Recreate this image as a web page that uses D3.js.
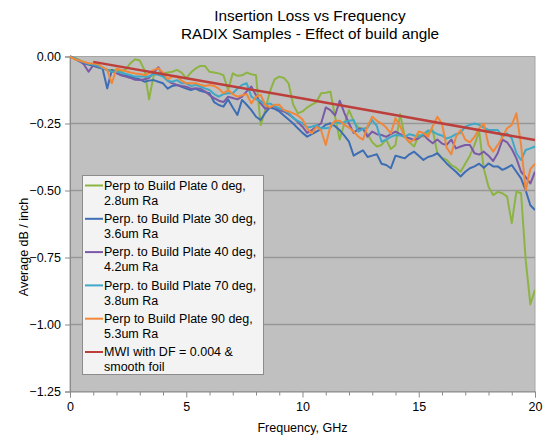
<!DOCTYPE html>
<html>
<head>
<meta charset="utf-8">
<script src="https://cdn.jsdelivr.net/npm/d3@7"></script>
<style>
  html, body { margin: 0; padding: 0; background: #ffffff; }
  svg { display: block; font-family: "Liberation Sans", Arial, sans-serif; }
</style>
</head>
<body>
<svg id="chart" width="545" height="437"></svg>
<script>
// ---------- DATA ----------
const titleLines = ["Insertion Loss vs Frequency", "RADIX Samples - Effect of build angle"];
const xTitle = "Frequency, GHz";
const yTitle = "Average dB / inch";
const xTicks = [0, 5, 10, 15, 20];
const xMinorTicks = [1,2,3,4,6,7,8,9,11,12,13,14,16,17,18,19];
const yTicks = [0, -0.25, -0.5, -0.75, -1.0, -1.25];

const freq = [0,0.2,0.4,0.6,0.8,1,1.2,1.4,1.6,1.8,2,2.2,2.4,2.6,2.8,3,3.2,3.4,3.6,3.8,
  4,4.2,4.4,4.6,4.8,5,5.2,5.4,5.6,5.8,6,6.2,6.4,6.6,6.8,7,7.2,7.4,7.6,7.8,
  8,8.2,8.4,8.6,8.8,9,9.2,9.4,9.6,9.8,10,10.2,10.4,10.6,10.8,11,11.2,11.4,11.6,11.8,
  12,12.2,12.4,12.6,12.8,13,13.2,13.4,13.6,13.8,14,14.2,14.4,14.6,14.8,15,15.2,15.4,15.6,15.8,
  16,16.2,16.4,16.6,16.8,17,17.2,17.4,17.6,17.8,18,18.2,18.4,18.6,18.8,19,19.2,19.4,19.6,19.8,20];

const lossDeg0 = [0,-0.005,-0.013,-0.022,-0.03,-0.035,-0.04,-0.045,-0.05,-0.05,
  -0.052,-0.055,-0.048,-0.025,-0.01,-0.015,-0.05,-0.16,-0.07,-0.06,
  -0.063,-0.06,-0.057,-0.05,-0.06,-0.081,-0.06,-0.045,-0.035,-0.035,
  -0.057,-0.06,-0.063,-0.07,-0.125,-0.063,-0.072,-0.07,-0.06,-0.066,
  -0.07,-0.256,-0.2,-0.13,-0.085,-0.075,-0.08,-0.1,-0.18,-0.212,
  -0.205,-0.19,-0.18,-0.17,-0.137,-0.135,-0.131,-0.224,-0.31,-0.25,
  -0.2,-0.24,-0.265,-0.27,-0.29,-0.32,-0.336,-0.33,-0.31,-0.345,
  -0.33,-0.215,-0.3,-0.32,-0.336,-0.293,-0.299,-0.285,-0.274,-0.36,
  -0.378,-0.386,-0.405,-0.415,-0.43,-0.4,-0.37,-0.33,-0.28,-0.42,
  -0.486,-0.517,-0.505,-0.51,-0.523,-0.622,-0.504,-0.51,-0.76,-0.925,-0.87];

const lossDeg30 = [0,-0.008,-0.018,-0.025,-0.03,-0.035,-0.04,-0.045,-0.119,-0.05,
  -0.06,-0.069,-0.072,-0.075,-0.081,-0.085,-0.094,-0.09,-0.088,-0.094,
  -0.1,-0.12,-0.11,-0.106,-0.113,-0.12,-0.125,-0.12,-0.128,-0.133,
  -0.137,-0.17,-0.181,-0.187,-0.16,-0.19,-0.218,-0.162,-0.18,-0.2,
  -0.225,-0.237,-0.21,-0.19,-0.195,-0.205,-0.22,-0.235,-0.25,-0.268,
  -0.285,-0.299,-0.29,-0.28,-0.27,-0.255,-0.249,-0.26,-0.275,-0.295,
  -0.318,-0.37,-0.36,-0.35,-0.375,-0.37,-0.365,-0.4,-0.405,-0.417,
  -0.37,-0.375,-0.38,-0.365,-0.355,-0.37,-0.386,-0.375,-0.37,-0.361,
  -0.38,-0.399,-0.415,-0.43,-0.448,-0.43,-0.417,-0.41,-0.4,-0.415,
  -0.399,-0.41,-0.41,-0.423,-0.415,-0.405,-0.43,-0.455,-0.5,-0.555,-0.573];

const lossDeg40 = [0,-0.008,-0.015,-0.03,-0.057,-0.032,-0.038,-0.043,-0.05,-0.055,
  -0.062,-0.07,-0.075,-0.08,-0.087,-0.088,-0.085,-0.08,-0.06,-0.04,
  -0.07,-0.09,-0.1,-0.106,-0.11,-0.113,-0.12,-0.118,-0.12,-0.13,
  -0.144,-0.155,-0.165,-0.17,-0.15,-0.155,-0.16,-0.15,-0.13,-0.112,
  -0.145,-0.175,-0.195,-0.19,-0.185,-0.2,-0.205,-0.215,-0.228,-0.245,
  -0.262,-0.285,-0.275,-0.26,-0.25,-0.19,-0.2,-0.22,-0.165,-0.21,
  -0.25,-0.285,-0.27,-0.27,-0.299,-0.28,-0.29,-0.293,-0.3,-0.29,
  -0.28,-0.29,-0.3,-0.305,-0.311,-0.305,-0.29,-0.31,-0.324,-0.31,
  -0.325,-0.33,-0.31,-0.343,-0.336,-0.33,-0.33,-0.361,-0.366,-0.355,
  -0.37,-0.39,-0.36,-0.31,-0.32,-0.345,-0.38,-0.43,-0.45,-0.474,-0.43];

const lossDeg70 = [0,-0.007,-0.015,-0.022,-0.027,-0.03,-0.035,-0.043,-0.05,-0.057,
  -0.057,-0.06,-0.065,-0.07,-0.075,-0.075,-0.075,-0.075,-0.065,-0.068,
  -0.075,-0.09,-0.094,-0.088,-0.1,-0.1,-0.11,-0.106,-0.112,-0.119,
  -0.125,-0.14,-0.15,-0.14,-0.137,-0.137,-0.12,-0.106,-0.1,-0.15,
  -0.16,-0.165,-0.181,-0.175,-0.185,-0.193,-0.2,-0.21,-0.23,-0.24,
  -0.249,-0.265,-0.262,-0.256,-0.268,-0.268,-0.265,-0.243,-0.249,-0.245,
  -0.24,-0.237,-0.28,-0.27,-0.265,-0.237,-0.26,-0.318,-0.31,-0.3,
  -0.293,-0.295,-0.3,-0.29,-0.295,-0.3,-0.29,-0.276,-0.28,-0.29,
  -0.295,-0.306,-0.3,-0.29,-0.285,-0.262,-0.255,-0.25,-0.255,-0.265,
  -0.274,-0.274,-0.274,-0.3,-0.287,-0.305,-0.361,-0.386,-0.349,-0.343,-0.336];

const lossDeg90 = [0,-0.01,-0.015,-0.02,-0.025,-0.026,-0.028,-0.04,-0.05,-0.1,
  -0.045,-0.05,-0.055,-0.06,-0.063,-0.065,-0.069,-0.063,-0.05,-0.044,
  -0.06,-0.085,-0.075,-0.075,-0.09,-0.1,-0.1,-0.1,-0.105,-0.11,
  -0.106,-0.11,-0.12,-0.137,-0.125,-0.14,-0.15,-0.145,-0.14,-0.175,
  -0.15,-0.143,-0.18,-0.19,-0.18,-0.18,-0.2,-0.205,-0.212,-0.22,
  -0.235,-0.268,-0.287,-0.262,-0.275,-0.33,-0.26,-0.24,-0.24,-0.255,
  -0.265,-0.28,-0.299,-0.31,-0.26,-0.225,-0.24,-0.25,-0.265,-0.287,
  -0.23,-0.26,-0.3,-0.32,-0.31,-0.28,-0.285,-0.3,-0.26,-0.225,
  -0.25,-0.34,-0.365,-0.3,-0.274,-0.31,-0.32,-0.3,-0.268,-0.25,
  -0.33,-0.355,-0.33,-0.3,-0.268,-0.255,-0.212,-0.33,-0.5,-0.42,-0.4];

const freqModel = [1, 5, 10, 15, 20];
const lossModel = [-0.02, -0.081, -0.157, -0.234, -0.312];

const seriesNames = [
  ["Perp to Build Plate 0 deg,", "2.8um Ra"],
  ["Perp. to Build Plate 30 deg,", "3.6um Ra"],
  ["Perp. to Build Plate 40 deg,", "4.2um Ra"],
  ["Perp. to Build Plate 70 deg,", "3.8um Ra"],
  ["Perp to Build Plate 90 deg,", "5.3um Ra"],
  ["MWI with DF = 0.004 &", "smooth foil"]
];
const seriesColors = ["#8db443", "#3d6db4", "#7a5aa6", "#3ea8c6", "#f0873a", "#bd3f3b"];

// ---------- CHART ----------
const svg = d3.select("#chart");
const plot = { left: 70, right: 535, top: 56.5, bottom: 391.5 };

const x = d3.scaleLinear().domain([0, 20]).range([plot.left, plot.right]);
const y = d3.scaleLinear().domain([-1.25, 0]).range([plot.bottom, plot.top]);

// title
svg.append("g").selectAll("text").data(titleLines).join("text")
  .attr("x", 310).attr("y", (d, i) => 20.5 + i * 18)
  .attr("text-anchor", "middle").attr("font-size", 15.3).attr("fill", "#000")
  .text(d => d);

// plot background
svg.append("rect").attr("x", plot.left).attr("y", plot.top)
  .attr("width", plot.right - plot.left).attr("height", plot.bottom - plot.top)
  .attr("fill", "#c0c0c0").attr("stroke", "#a6a6a6").attr("stroke-width", 1);

// gridlines
svg.append("g").selectAll("line").data(yTicks.filter(v => v !== 0 && v !== -1.25)).join("line")
  .attr("x1", plot.left).attr("x2", plot.right)
  .attr("y1", d => y(d)).attr("y2", d => y(d))
  .attr("stroke", "#979797").attr("stroke-width", 1.3);

// y axis
const yAxis = d3.axisLeft(y).tickValues(yTicks).tickFormat(d3.format(".2f")).tickSize(5).tickPadding(4);
const gy = svg.append("g").attr("transform", `translate(${plot.left},0)`).call(yAxis);
gy.select(".domain").attr("stroke", "#8a8a8a");
gy.selectAll(".tick line").attr("stroke", "#8a8a8a");
gy.selectAll(".tick text").attr("font-size", 12.5).attr("fill", "#000")
  .attr("font-family", "'Liberation Sans', Arial, sans-serif");

// x axis
const xAxis = d3.axisBottom(x).tickValues(xTicks).tickFormat(d3.format("d")).tickSize(6).tickPadding(5);
const gx = svg.append("g").attr("transform", `translate(0,${plot.bottom})`).call(xAxis);
gx.select(".domain").attr("stroke", "#8a8a8a");
gx.selectAll(".tick line").attr("stroke", "#8a8a8a");
gx.selectAll(".tick text").attr("font-size", 12.5).attr("fill", "#000")
  .attr("font-family", "'Liberation Sans', Arial, sans-serif");
const xAxisMinor = d3.axisBottom(x).tickValues(xMinorTicks).tickFormat("").tickSize(4);
const gxm = svg.append("g").attr("transform", `translate(0,${plot.bottom})`).call(xAxisMinor);
gxm.select(".domain").remove();
gxm.selectAll(".tick line").attr("stroke", "#8a8a8a");

// axis titles
svg.append("text").attr("x", (plot.left + plot.right) / 2).attr("y", 432)
  .attr("text-anchor", "middle").attr("font-size", 12.5).text(xTitle);
svg.append("text").attr("transform", `translate(28,247) rotate(-90)`)
  .attr("text-anchor", "middle").attr("font-size", 12.5).text(yTitle);

// series
svg.append("defs").append("clipPath").attr("id", "clip")
  .append("rect").attr("x", plot.left).attr("y", plot.top - 2)
  .attr("width", plot.right - plot.left).attr("height", plot.bottom - plot.top + 2);

const measured = [lossDeg0, lossDeg30, lossDeg40, lossDeg70, lossDeg90];
const line = d3.line().x(d => x(d[0])).y(d => y(d[1]));
const gLines = svg.append("g").attr("clip-path", "url(#clip)");
measured.forEach((vals, i) => {
  gLines.append("path")
    .datum(freq.map((f, j) => [f, vals[j]]))
    .attr("d", line).attr("fill", "none")
    .attr("stroke", seriesColors[i]).attr("stroke-width", 2)
    .attr("stroke-linejoin", "round");
});
gLines.append("path")
  .datum(freqModel.map((f, j) => [f, lossModel[j]]))
  .attr("d", line).attr("fill", "none")
  .attr("stroke", seriesColors[5]).attr("stroke-width", 2.5);

// legend
const lg = svg.append("g");
lg.append("rect").attr("x", 82.5).attr("y", 175.5).attr("width", 181).attr("height", 199)
  .attr("fill", "#f3f3f3").attr("stroke", "#8c8c8c").attr("stroke-width", 1);
seriesNames.forEach((lines, i) => {
  const cy = 185.5 + i * 33.3;
  lg.append("line").attr("x1", 85).attr("x2", 103).attr("y1", cy).attr("y2", cy)
    .attr("stroke", seriesColors[i]).attr("stroke-width", 2);
  lines.forEach((t, k) => {
    lg.append("text").attr("x", 104).attr("y", cy + k * 15).attr("dy", "0.35em")
      .attr("font-size", 12.5).attr("fill", "#000").text(t);
  });
});
</script>
</body>
</html>
